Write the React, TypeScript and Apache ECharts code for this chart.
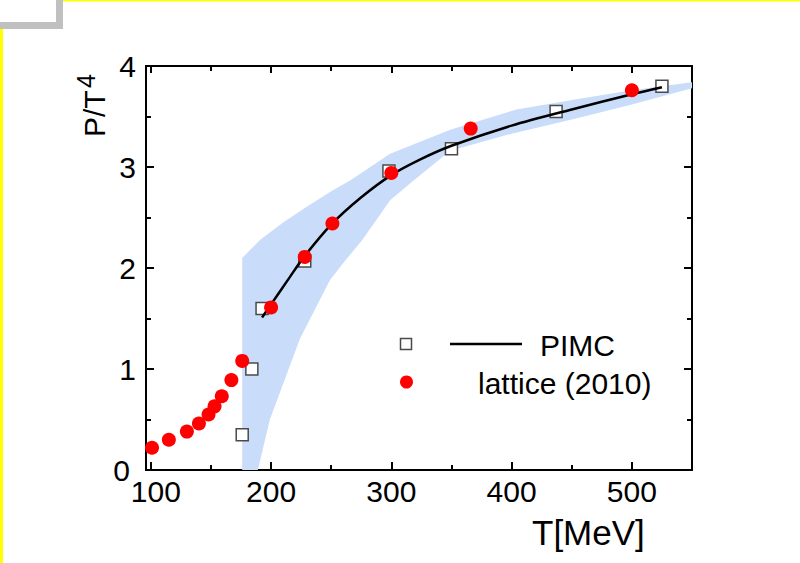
import React, { useEffect, useRef } from "react";
import * as echarts from "echarts";

const FONT = "'Liberation Sans', Arial, Helvetica, sans-serif";

// Lattice (2010) points
const latticeT = [101, 115, 130, 140, 148, 153, 159, 167, 176, 200, 228, 251, 300, 366, 500];
const latticeP = [0.22, 0.30, 0.38, 0.46, 0.55, 0.63, 0.73, 0.89, 1.08, 1.61, 2.11, 2.44, 2.94, 3.38, 3.76];

// PIMC points
const pimcT = [176, 184, 192.5, 228, 298, 350, 437, 525];
const pimcP = [0.35, 1.0, 1.6, 2.07, 2.96, 3.18, 3.55, 3.8];

// PIMC curve
const curveT = [192.5, 200, 215, 228, 250, 275, 300, 325, 350, 400, 450, 500, 525];
const curveP = [1.51, 1.64, 1.9, 2.12, 2.43, 2.7, 2.92, 3.08, 3.21, 3.41, 3.57, 3.72, 3.79];

// Uncertainty band
const bandUpperT = [176, 191, 210, 230, 250, 266, 299, 349, 404, 459, 500, 550];
const bandUpperP = [2.1, 2.28, 2.45, 2.61, 2.76, 2.87, 3.13, 3.37, 3.57, 3.68, 3.76, 3.84];
const bandLowerT = [176, 189, 199, 224, 249, 260, 276, 299, 320, 349, 400, 450, 500, 550];
const bandLowerP = [0, 0, 0.5, 1.3, 1.88, 2.05, 2.28, 2.67, 2.88, 3.16, 3.33, 3.47, 3.62, 3.78];

// Axis ticks
const xMajorTicks = [100, 200, 300, 400, 500];
const xMinorTicks = [150, 250, 350, 450];
const yMin = 0;
const yMax = 4;
const xMin = 96;
const xMax = 550;

const legendNames = ["PIMC", "lattice (2010)"];
const xAxisTitle = "T[MeV]";

export default function App() {
  const ref = useRef<HTMLDivElement>(null);

  useEffect(() => {
    if (!ref.current) return;
    const chart = echarts.init(ref.current, null, { renderer: "svg" });

    const black = "#000";
    const axisLine = { show: true, onZero: false, lineStyle: { color: black, width: 2 } };

    const xAxisBase = (position: string, ticks: number[], len: number, labels: boolean) => ({
      type: "value",
      position,
      min: xMin,
      max: xMax,
      axisLine,
      axisTick: {
        show: true,
        inside: true,
        length: len,
        customValues: ticks,
        lineStyle: { color: black, width: 2 },
      },
      axisLabel: labels
        ? {
            show: true,
            customValues: ticks,
            fontSize: 30,
            lineHeight: 22,
            color: black,
            fontFamily: FONT,
            margin: 10,
            formatter: (v: number) => (v === xMajorTicks[0] ? `{first|${v}}` : `${v}`),
            rich: {
              first: {
                fontSize: 30,
                lineHeight: 22,
                color: black,
                fontFamily: FONT,
                padding: [0, 0, 0, 10],
              },
            },
          }
        : { show: false },
      splitLine: { show: false },
    });

    const yAxisBase = (position: string, labels: boolean) => ({
      type: "value",
      position,
      min: yMin,
      max: yMax,
      interval: 1,
      axisLine,
      axisTick: { show: true, inside: true, length: 8, lineStyle: { color: black, width: 2 } },
      minorTick: { show: true, splitNumber: 2, length: 5, lineStyle: { color: black, width: 2 } },
      axisLabel: labels
        ? {
            show: true,
            fontSize: 30,
            lineHeight: 18,
            color: black,
            fontFamily: FONT,
            margin: 10,
            formatter: (v: number) => (v === yMin ? `{zero|${v}}` : `${v}`),
            rich: {
              zero: {
                fontSize: 30,
                lineHeight: 18,
                color: black,
                fontFamily: FONT,
                padding: [0, 6, 0, 0],
              },
            },
          }
        : { show: false },
      splitLine: { show: false },
      minorSplitLine: { show: false },
    });

    const bandPolygon = [
      ...bandUpperT.map((t, i) => [t, bandUpperP[i]]),
      ...bandLowerT.map((t, i) => [t, bandLowerP[i]]).reverse(),
    ];

    chart.setOption({
      animation: false,
      backgroundColor: "#fff",
      grid: { left: 146, right: 108, top: 66, bottom: 93, containLabel: false },
      xAxis: [
        xAxisBase("bottom", xMajorTicks, 8, true),
        xAxisBase("bottom", xMinorTicks, 5, false),
        xAxisBase("top", xMajorTicks, 7, false),
        xAxisBase("top", xMinorTicks, 5, false),
      ],
      yAxis: [yAxisBase("left", true), yAxisBase("right", false)],
      series: [
        {
          type: "custom",
          name: "band",
          xAxisIndex: 0,
          yAxisIndex: 0,
          silent: true,
          z: 1,
          clip: true,
          data: [[bandUpperT[0], bandUpperP[0]]],
          renderItem: (params: any, api: any) => {
            if (params.dataIndex !== 0) return null;
            const points = bandPolygon.map((p) => api.coord(p));
            return {
              type: "polygon",
              shape: { points },
              style: { fill: "#c9dcf9", stroke: "none" },
            };
          },
        },
        {
          type: "line",
          name: legendNames[0] + " curve",
          xAxisIndex: 0,
          yAxisIndex: 0,
          data: curveT.map((t, i) => [t, curveP[i]]),
          smooth: 0.3,
          showSymbol: false,
          symbol: "none",
          lineStyle: { color: black, width: 2.5 },
          z: 3,
        },
        {
          type: "scatter",
          name: legendNames[0],
          xAxisIndex: 0,
          yAxisIndex: 0,
          data: pimcT.map((t, i) => [t, pimcP[i]]),
          symbol: "rect",
          symbolSize: 12,
          itemStyle: { color: "#fff", borderColor: "#4a4a4a", borderWidth: 1.5, opacity: 1 },
          z: 2,
        },
        {
          type: "scatter",
          name: legendNames[1],
          xAxisIndex: 0,
          yAxisIndex: 0,
          data: latticeT.map((t, i) => [t, latticeP[i]]),
          symbol: "circle",
          symbolSize: 14,
          itemStyle: { color: "#ff0000", opacity: 1 },
          z: 4,
        },
      ],
      graphic: [
        // frame decorations
        { type: "rect", shape: { x: 0, y: 0, width: 63, height: 29 }, style: { fill: "#c0c0c0" }, z: 10 },
        { type: "rect", shape: { x: 0, y: 0, width: 56, height: 22 }, style: { fill: "#ffffff" }, z: 11 },
        { type: "rect", shape: { x: 63, y: 0, width: 737, height: 1.5 }, style: { fill: "#ffff00" }, z: 10 },
        { type: "rect", shape: { x: 0, y: 29, width: 3, height: 534 }, style: { fill: "#ffff00" }, z: 10 },
        // y axis title
        {
          type: "group",
          x: 94,
          y: 137,
          rotation: Math.PI / 2,
          children: [
            {
              type: "text",
              x: 0,
              y: 0,
              style: {
                text: "P/T",
                font: `30px ${FONT}`,
                fill: black,
                textAlign: "left",
                align: "left",
                textVerticalAlign: "middle",
                verticalAlign: "middle",
              },
            },
            {
              type: "text",
              x: 49,
              y: -8,
              style: {
                text: "4",
                font: `25px ${FONT}`,
                fill: black,
                textAlign: "left",
                align: "left",
                textVerticalAlign: "middle",
                verticalAlign: "middle",
              },
            },
          ],
        },
        // x axis title
        {
          type: "text",
          x: 532,
          y: 532,
          style: {
            text: xAxisTitle,
            font: `35px ${FONT}`,
            fill: black,
            textAlign: "left",
            align: "left",
            textVerticalAlign: "middle",
            verticalAlign: "middle",
          },
        },
        // legend
        {
          type: "rect",
          shape: { x: 400.5, y: 338.5, width: 11, height: 11 },
          style: { fill: "#fff", stroke: "#4a4a4a", lineWidth: 1.5 },
          z: 20,
        },
        {
          type: "line",
          shape: { x1: 450, y1: 344, x2: 522, y2: 344 },
          style: { stroke: black, lineWidth: 2.5 },
          z: 20,
        },
        {
          type: "text",
          x: 540,
          y: 345,
          style: {
            text: legendNames[0],
            font: `30px ${FONT}`,
            fill: black,
            textAlign: "left",
            align: "left",
            textVerticalAlign: "middle",
            verticalAlign: "middle",
          },
          z: 20,
        },
        {
          type: "circle",
          shape: { cx: 406.5, cy: 382, r: 6.5 },
          style: { fill: "#ff0000" },
          z: 20,
        },
        {
          type: "text",
          x: 478,
          y: 383,
          style: {
            text: legendNames[1],
            font: `30px ${FONT}`,
            fill: black,
            textAlign: "left",
            align: "left",
            textVerticalAlign: "middle",
            verticalAlign: "middle",
          },
          z: 20,
        },
      ],
    });

    return () => chart.dispose();
  }, []);

  return (
    <div
      ref={ref}
      style={{ position: "absolute", left: 0, top: 0, width: 800, height: 563, background: "#fff" }}
    />
  );
}
